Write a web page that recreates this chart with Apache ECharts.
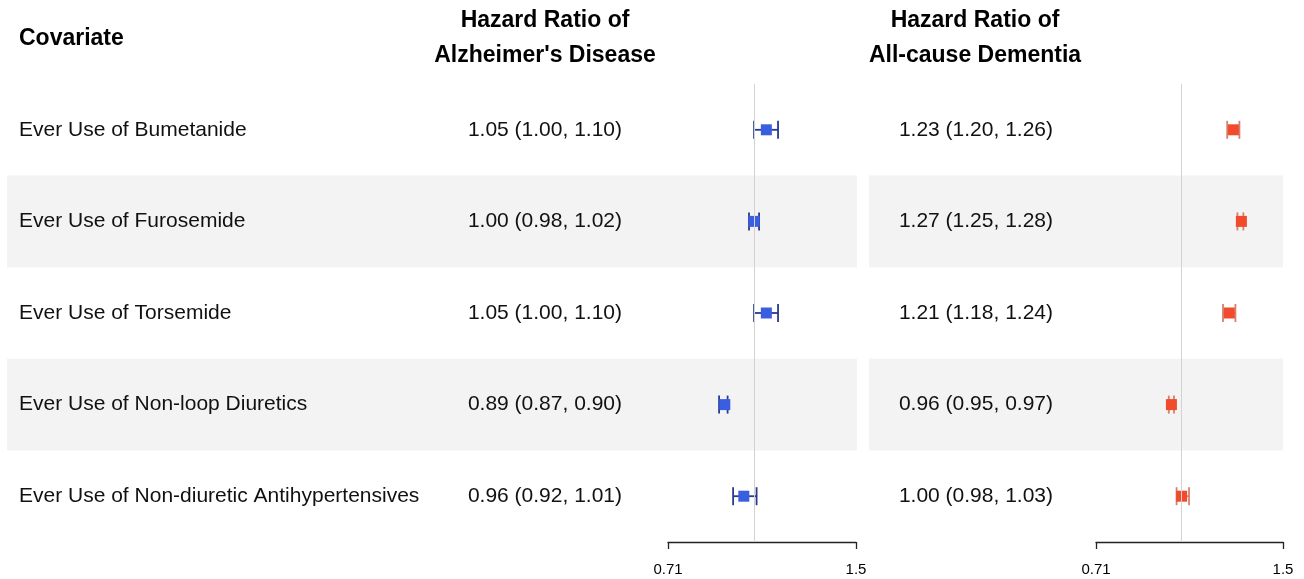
<!DOCTYPE html>
<html><head><meta charset="utf-8">
<script src="https://cdn.jsdelivr.net/npm/echarts@6/dist/echarts.min.js"></script>
<style>html,body{margin:0;padding:0;background:#fff}#c{width:1304px;height:579px}</style>
</head><body><div id="c"></div>
<script>
// ---- data ----
const covariates = [
  'Ever Use of Bumetanide',
  'Ever Use of Furosemide',
  'Ever Use of Torsemide',
  'Ever Use of Non-loop Diuretics',
  'Ever Use of Non-diuretic Antihypertensives'
];
const adHR   = [1.05, 1.00, 1.05, 0.89, 0.96];
const adLow  = [1.00, 0.98, 1.00, 0.87, 0.92];
const adHigh = [1.10, 1.02, 1.10, 0.90, 1.01];
const dmHR   = [1.23, 1.27, 1.21, 0.96, 1.00];
const dmLow  = [1.20, 1.25, 1.18, 0.95, 0.98];
const dmHigh = [1.26, 1.28, 1.24, 0.97, 1.03];
const axisTickValues = [0.71, 1.5];
const refValue = 1;
const headerCov = 'Covariate';
const headerAD = 'Hazard Ratio of\nAlzheimer\'s Disease';
const headerDM = 'Hazard Ratio of\nAll-cause Dementia';

// ---- build ----
const FONT = '"Liberation Sans", Arial, sans-serif';
const fmt = v => v.toFixed(2);
const hrText = (h, l, u) => h.map((v, i) => `${fmt(v)} (${fmt(l[i])}, ${fmt(u[i])})`);
const adText = hrText(adHR, adLow, adHigh);
const dmText = hrText(dmHR, dmLow, dmHigh);
const ln = Math.log;
const mkData = (h, l, u) => h.map((v, i) => [ln(v), i, ln(l[i]), ln(u[i])]);

const TOP = 84, H = 458;
function ciRender(boxColor, lineColor, box) {
  return function (params, api) {
    const c = api.coord([api.value(0), api.value(1)]);
    const lo = api.coord([api.value(2), api.value(1)])[0];
    const hi = api.coord([api.value(3), api.value(1)])[0];
    const y = c[1], cap = 9;
    const ls = { stroke: lineColor, lineWidth: 1.8 };
    return {
      type: 'group',
      children: [
        { type: 'line', shape: { x1: lo, y1: y, x2: hi, y2: y }, style: ls },
        { type: 'line', shape: { x1: lo, y1: y - cap, x2: lo, y2: y + cap }, style: ls },
        { type: 'line', shape: { x1: hi, y1: y - cap, x2: hi, y2: y + cap }, style: ls },
        { type: 'rect', shape: { x: c[0] - box / 2, y: y - box / 2, width: box, height: box }, style: { fill: boxColor } }
      ]
    };
  };
}
const hiddenX = i => ({ type: 'value', gridIndex: i, show: false });
const plotX = i => ({
  type: 'value', gridIndex: i,
  min: ln(axisTickValues[0]), max: ln(axisTickValues[axisTickValues.length - 1]),
  axisLine: { show: true, onZero: false, lineStyle: { color: '#222', width: 1.3 } },
  axisTick: { show: true, inside: false, length: 7, customValues: axisTickValues.map(ln), lineStyle: { color: '#222', width: 1.3 } },
  axisLabel: { show: true, customValues: axisTickValues.map(ln), margin: 20, fontSize: 15, color: '#000', fontFamily: FONT,
    formatter: v => String(Number(Math.exp(v).toPrecision(2))) },
  splitLine: { show: false }
});
const bgY = (i, labels, show) => ({
  type: 'category', gridIndex: i, inverse: true, data: labels,
  axisLine: { show: false }, axisTick: { show: false }, splitLine: { show: false },
  splitArea: { show: true, areaStyle: { color: ['rgba(255,255,255,0)', '#f3f3f3'] } },
  axisLabel: { show: show, inside: true, margin: 12, fontSize: 21, color: '#111', fontFamily: FONT }
});
const txtY = (i, labels, margin) => ({
  type: 'category', gridIndex: i, inverse: true, data: labels,
  axisLine: { show: false }, axisTick: { show: false }, splitLine: { show: false },
  axisLabel: { show: true, align: 'right', margin: margin, fontSize: 21, color: '#111', fontFamily: FONT }
});

const option = {
  animation: false,
  backgroundColor: '#fff',
  title: [
    { text: headerCov, left: 19, top: 27, padding: 0, textStyle: { fontSize: 23, fontWeight: 'bold', color: '#000', fontFamily: FONT } },
    { text: headerAD, left: 545, top: 3, padding: 0, textAlign: 'center', textStyle: { fontSize: 23, fontWeight: 'bold', lineHeight: 35, color: '#000', fontFamily: FONT } },
    { text: headerDM, left: 975, top: 3, padding: 0, textAlign: 'center', textStyle: { fontSize: 23, fontWeight: 'bold', lineHeight: 35, color: '#000', fontFamily: FONT } }
  ],
  grid: [
    { left: 7, width: 850, top: TOP, height: H },
    { left: 668, width: 188, top: TOP, height: H },
    { left: 869, width: 414, top: TOP, height: H },
    { left: 1096, width: 187, top: TOP, height: H }
  ],
  xAxis: [hiddenX(0), plotX(1), hiddenX(2), plotX(3)],
  yAxis: [
    bgY(0, covariates, true),
    txtY(1, adText, 46),
    bgY(2, covariates, false),
    txtY(3, dmText, 43)
  ],
  series: [
    {
      type: 'custom', xAxisIndex: 1, yAxisIndex: 1, z: 3,
      encode: { x: [0, 2, 3], y: 1 },
      data: mkData(adHR, adLow, adHigh),
      renderItem: ciRender('#3a5ee0', '#283a8c', 11),
      markLine: { silent: true, symbol: 'none', label: { show: false }, lineStyle: { color: '#d2d2d2', width: 1, type: 'solid' },
        data: [{ xAxis: ln(refValue) }] }
    },
    {
      type: 'custom', xAxisIndex: 3, yAxisIndex: 3, z: 3,
      encode: { x: [0, 2, 3], y: 1 },
      data: mkData(dmHR, dmLow, dmHigh),
      renderItem: ciRender('#f24a2c', '#d4806c', 11),
      markLine: { silent: true, symbol: 'none', label: { show: false }, lineStyle: { color: '#d2d2d2', width: 1, type: 'solid' },
        data: [{ xAxis: ln(refValue) }] }
    }
  ]
};
const chart = echarts.init(document.getElementById('c'), null, { renderer: 'canvas' });
chart.setOption(option);
</script>
</body></html>
